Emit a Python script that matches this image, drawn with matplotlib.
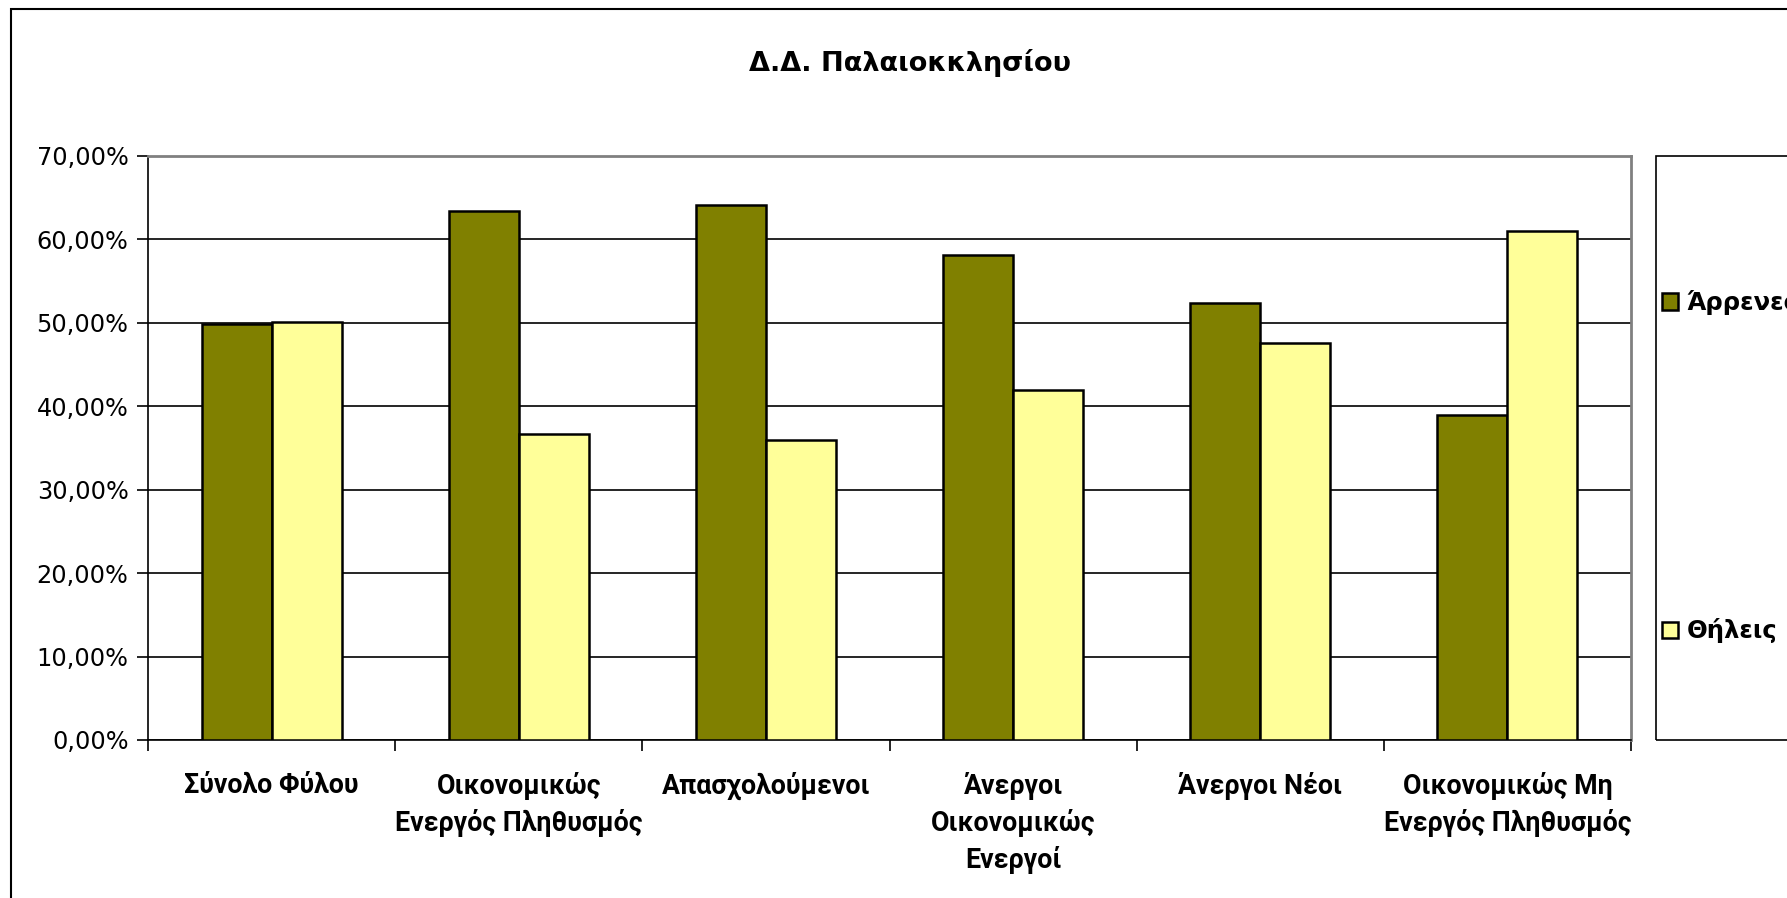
import matplotlib
matplotlib.use("Agg")
import matplotlib.pyplot as plt
import numpy as np
from matplotlib.patches import Rectangle
from matplotlib.ticker import FuncFormatter, MultipleLocator, FixedLocator

# δεδομένα
categories = ["Σύνολο Φύλου", "Οικονομικώς\nΕνεργός Πληθυσμός", "Απασχολούμενοι",
              "Άνεργοι\nΟικονομικώς\nΕνεργοί", "Άνεργοι Νέοι", "Οικονομικώς Μη\nΕνεργός Πληθυσμός"]
males = [49.85, 63.35, 64.1, 58.1, 52.4, 39.0]
females = [50.15, 36.65, 35.9, 41.9, 47.6, 61.0]
series_names = ["Άρρενες", "Θήλεις"]
title = "Δ.Δ. Παλαιοκκλησίου"

plt.rcParams['font.family'] = ['DejaVu Sans']

fig = plt.figure(figsize=(17.87, 8.98), dpi=100)
ax = fig.add_axes([148/1787, 1-740/898, (1631-148)/1787, (740-156)/898])

x = np.arange(len(categories))
w = 0.283
ax.bar(x - w/2, males, w, color="#808000", edgecolor="black", linewidth=1.8, label=series_names[0], zorder=3)
ax.bar(x + w/2, females, w, color="#FFFF99", edgecolor="black", linewidth=1.8, label=series_names[1], zorder=3)

ax.set_xlim(-0.5, len(categories) - 0.5)
ax.set_ylim(0, 70)
ax.yaxis.set_major_locator(MultipleLocator(10))
ax.yaxis.set_major_formatter(FuncFormatter(lambda v, p: ("%.2f%%" % v).replace(".", ",")))
ax.grid(axis="y", color="black", linewidth=1.2, zorder=0)

ax.set_xticks(x)
ax.set_xticklabels(categories, fontsize=19.3, fontweight="bold", family=["Roboto", "DejaVu Sans"],
                   linespacing=1.42, va="top")
ax.xaxis.set_minor_locator(FixedLocator(np.arange(-0.5, len(categories), 1)))
ax.tick_params(axis="x", which="major", length=0, pad=23)
ax.tick_params(axis="x", which="minor", length=8, width=1.2, direction="out")
ax.tick_params(axis="y", length=8, width=1.2, direction="out", labelsize=17.3, pad=6)

for s in ["top", "right"]:
    ax.spines[s].set_color("#808080")
    ax.spines[s].set_linewidth(2)
ax.spines["left"].set_linewidth(1.2)
ax.spines["bottom"].set_linewidth(1.2)

fig.text(910/1787, 1-63/898, title, ha="center", va="center", fontsize=19.5, fontweight="bold")

# πλαίσιο υπομνήματος
fig.patches.append(Rectangle((1656/1787, 1-740/898), 0.2, (740-156)/898, transform=fig.transFigure,
                             fill=False, edgecolor="black", linewidth=1.2))
# εξωτερικό πλαίσιο
fig.patches.append(Rectangle((11/1787, -0.1), 1.2, 1-9/898 + 0.1, transform=fig.transFigure,
                             fill=False, edgecolor="black", linewidth=1.5))

leg = fig.legend(loc="upper left", bbox_to_anchor=(1662/1787, 1-290/898), frameon=False,
                 prop={"size": 17.5, "weight": "bold"}, handlelength=0.65, handleheight=0.65,
                 handletextpad=0.35, labelspacing=12.48, borderaxespad=0, borderpad=0)

fig.savefig("out.png", dpi=100)
